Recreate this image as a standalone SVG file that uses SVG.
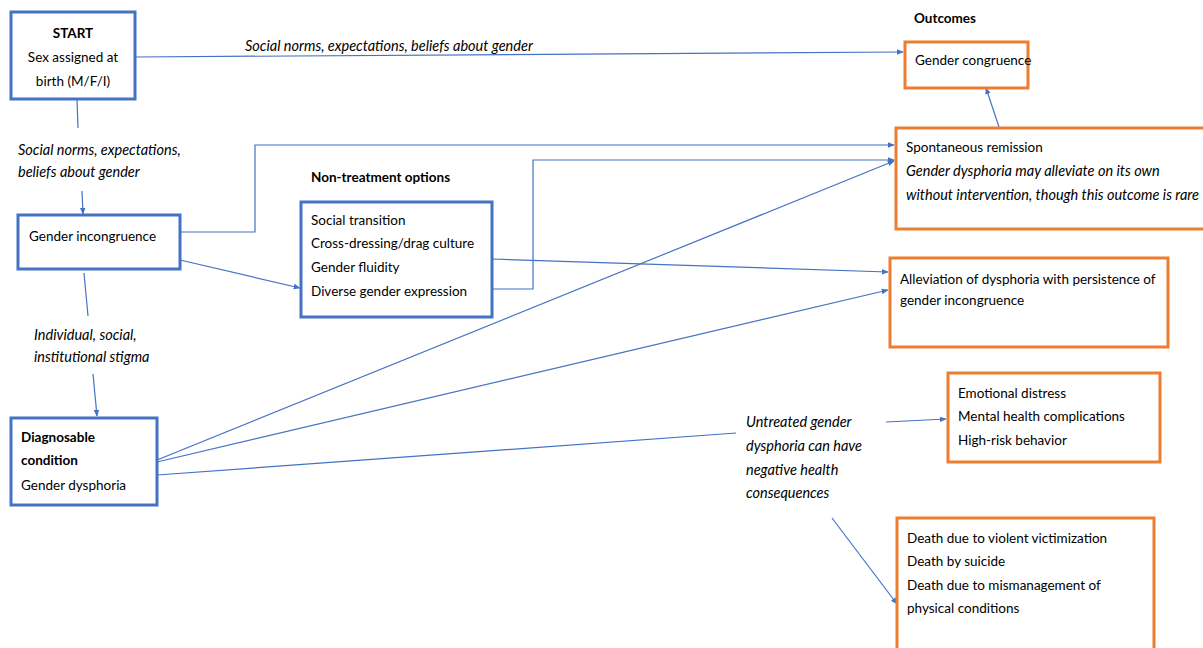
<svg xmlns="http://www.w3.org/2000/svg" width="1203" height="648" viewBox="0 0 1203 648">
  <defs>
    <marker id="arr" viewBox="0 0 10 10" refX="9" refY="5" markerWidth="7" markerHeight="7" orient="auto" markerUnits="userSpaceOnUse">
      <path d="M0,1 L10,5 L0,9 z" fill="#4472C4"/>
    </marker>
  </defs>
  <style>
    text { font-family: Lato, "Open Sans", "Liberation Sans", sans-serif; font-size: 13.5px; fill: #000; }
    .b { font-weight: bold; }
    .i { font-style: italic; font-size: 14.5px; }
    .blue { fill: #fff; stroke: #4472C4; stroke-width: 3; }
    .orange { fill: #fff; stroke: #ED7D31; stroke-width: 3; }
    .ln { fill: none; stroke: #4472C4; stroke-width: 1.2; }
  </style>
  <rect width="1203" height="648" fill="#fff"/>

  <!-- connectors -->
  <g id="connectors">
    <line class="ln" x1="135" y1="57" x2="903" y2="52" marker-end="url(#arr)"/>
    <line class="ln" x1="77" y1="100" x2="78" y2="128"/>
    <line class="ln" x1="82" y1="191" x2="83" y2="214" marker-end="url(#arr)"/>
    <polyline class="ln" points="180,232 255,232 255,145 894,145" marker-end="url(#arr)"/>
    <polyline class="ln" points="492,289 533,289 533,160 894,160" marker-end="url(#arr)"/>
    <line class="ln" x1="157" y1="460" x2="894" y2="161" marker-end="url(#arr)"/>
    <line class="ln" x1="180" y1="260" x2="300" y2="288" marker-end="url(#arr)"/>
    <line class="ln" x1="492" y1="259" x2="888" y2="272" marker-end="url(#arr)"/>
    <line class="ln" x1="157" y1="462" x2="888" y2="290" marker-end="url(#arr)"/>
    <line class="ln" x1="84" y1="273" x2="88" y2="316"/>
    <line class="ln" x1="93" y1="374" x2="97" y2="416" marker-end="url(#arr)"/>
    <line class="ln" x1="157" y1="475" x2="736" y2="433"/>
    <line class="ln" x1="886" y1="422" x2="946" y2="419" marker-end="url(#arr)"/>
    <line class="ln" x1="832" y1="518" x2="897" y2="604" marker-end="url(#arr)"/>
    <line class="ln" x1="999" y1="127" x2="986" y2="88" marker-end="url(#arr)"/>
  </g>

  <!-- connector labels -->
  <g id="labels">
    <text class="i" x="245" y="51">Social norms, expectations, beliefs about gender</text>
    <text class="i" x="18" y="155">Social norms, expectations,</text>
    <text class="i" x="18" y="177">beliefs about gender</text>
    <text class="i" x="34" y="340">Individual, social,</text>
    <text class="i" x="34" y="362">institutional stigma</text>
    <text class="i" x="746" y="427">Untreated gender</text>
    <text class="i" x="746" y="451">dysphoria can have</text>
    <text class="i" x="746" y="475">negative health</text>
    <text class="i" x="746" y="498">consequences</text>
  </g>

  <!-- section headings -->
  <text class="b" x="311" y="182">Non-treatment options</text>
  <text class="b" x="914" y="23">Outcomes</text>

  <g id="start">
    <rect class="blue" x="11" y="12" width="124" height="87"/>
    <text class="b" x="73" y="38" text-anchor="middle">START</text>
    <text x="73" y="62" text-anchor="middle">Sex assigned at</text>
    <text x="73" y="86" text-anchor="middle">birth (M/F/I)</text>
  </g>

  <g id="gender-incongruence">
    <rect class="blue" x="18" y="215" width="162" height="54"/>
    <text x="29" y="241">Gender incongruence</text>
  </g>

  <g id="non-treatment">
    <rect class="blue" x="301" y="202" width="191" height="115"/>
    <text x="311" y="225">Social transition</text>
    <text x="311" y="248">Cross-dressing/drag culture</text>
    <text x="311" y="272">Gender fluidity</text>
    <text x="311" y="296">Diverse gender expression</text>
  </g>

  <g id="diagnosable">
    <rect class="blue" x="11" y="418" width="146" height="87"/>
    <text class="b" x="21" y="442">Diagnosable</text>
    <text class="b" x="21" y="465">condition</text>
    <text x="21" y="490">Gender dysphoria</text>
  </g>

  <g id="gender-congruence">
    <rect class="orange" x="905" y="42" width="123" height="46"/>
    <text x="915" y="65">Gender congruence</text>
  </g>

  <g id="spontaneous-remission">
    <rect class="orange" x="896" y="128" width="310" height="101"/>
    <text x="906" y="152">Spontaneous remission</text>
    <text class="i" x="906" y="176">Gender dysphoria may alleviate on its own</text>
    <text class="i" x="906" y="200">without intervention, though this outcome is rare</text>
  </g>

  <g id="alleviation">
    <rect class="orange" x="890" y="258" width="278" height="89"/>
    <text x="900" y="284">Alleviation of dysphoria with persistence of</text>
    <text x="900" y="305">gender incongruence</text>
  </g>

  <g id="distress">
    <rect class="orange" x="948" y="373" width="212" height="89"/>
    <text x="958" y="398">Emotional distress</text>
    <text x="958" y="421">Mental health complications</text>
    <text x="958" y="445">High-risk behavior</text>
  </g>

  <g id="death">
    <rect class="orange" x="897" y="518" width="257" height="135"/>
    <text x="907" y="543">Death due to violent victimization</text>
    <text x="907" y="566">Death by suicide</text>
    <text x="907" y="590">Death due to mismanagement of</text>
    <text x="907" y="613">physical conditions</text>
  </g>
</svg>
